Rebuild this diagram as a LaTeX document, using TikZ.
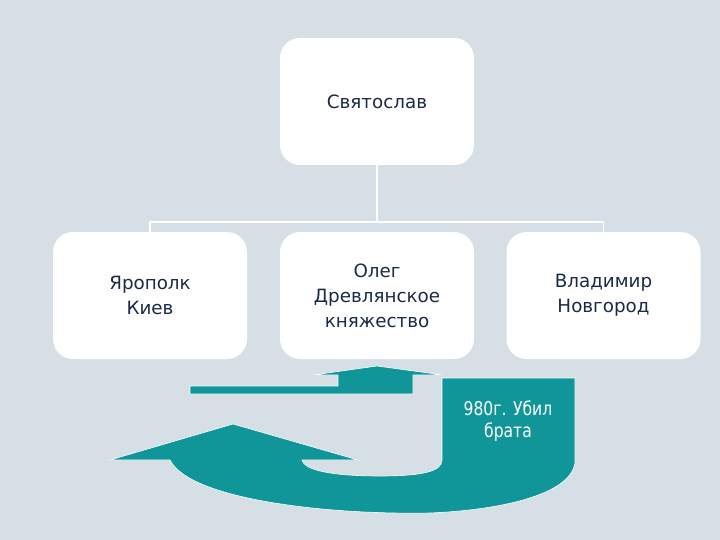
\documentclass[tikz,border=0pt]{standalone}
\usepackage{fontspec}
\setmainfont{DejaVu Sans}
\newfontfamily\narrowfont[FakeStretch=0.82]{DejaVu Sans}
\definecolor{bgc}{HTML}{D6DEE6}
\definecolor{teal1}{RGB}{16,150,152}
\definecolor{txt}{HTML}{1B2A47}
\begin{document}
\begin{tikzpicture}[x=1pt,y=-1pt,
  box/.style={draw=none,fill=white,rounded corners=20pt,minimum width=194pt,minimum height=127pt,
    align=center,text=txt,font=\fontsize{18.3}{25}\selectfont,inner sep=0pt},
  conn/.style={draw=white,line width=1.5pt},
  tealshape/.style={fill=teal1,draw=white,line width=0.6pt}]
\fill[bgc] (0,0) rectangle (720,540);
\useasboundingbox (0,0) rectangle (720,540);
% nodes
\node[box] (sv) at (377,101.5) {Святослав};
\node[box] (yar) at (150,295.5) {Ярополк\\Киев};
\node[box] (oleg) at (377,295.5) {Олег\\Древлянское\\княжество};
\node[box] (vlad) at (603.5,295.5) {Владимир\\Новгород};
\coordinate (bus) at (0,222);
% connectors
\draw[conn] (sv.south) -- (sv.south |- bus);
\draw[conn] (yar.north) -- (yar.north |- bus) -- (vlad.north |- bus) -- (vlad.north);
% small bent arrow
\path[tealshape] (190,386) -- (338,386) -- (338,375) -- (313,375) -- (377,366) -- (443,375)
  -- (413,375) -- (413,394) -- (190,394) -- cycle;
% U-turn arrow
\path[tealshape] (442,378) -- (575,378) -- (575,463)
  .. controls (570,495) and (500,510) .. (430,513)
  .. controls (330,515) and (190,500) .. (170,460)
  -- (110,460) -- (233,424) -- (358,460) -- (302,460)
  .. controls (305,472) and (340,476) .. (380,476)
  .. controls (420,476) and (442,472) .. (442,460) -- cycle;
\node[text=white,align=center,font=\narrowfont\fontsize{19}{22}\selectfont] (kill) at (508,421) {980г. Убил\\брата};
\end{tikzpicture}
\end{document}
